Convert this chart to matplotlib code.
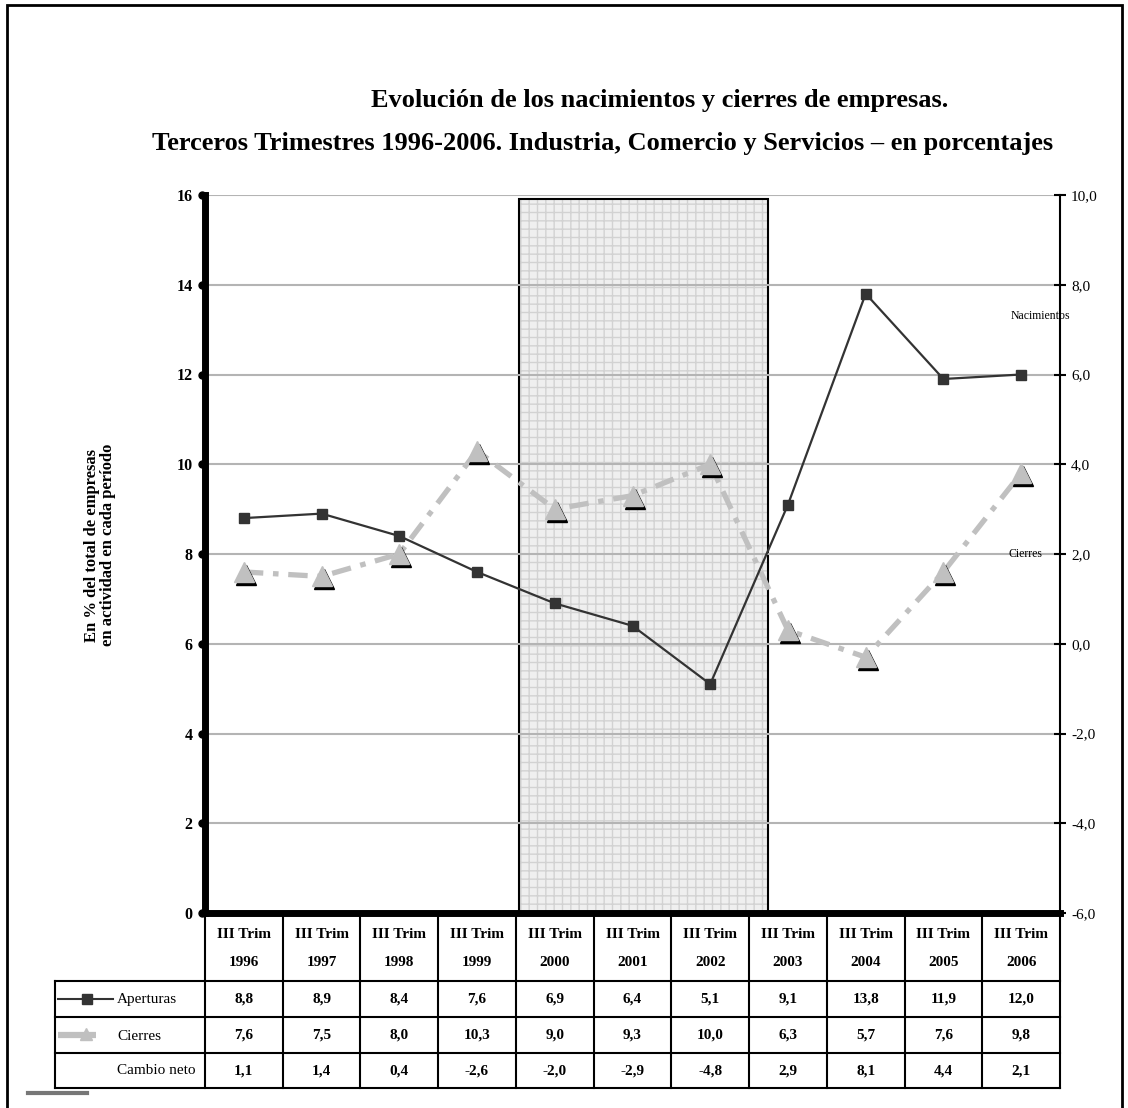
import numpy as np
import matplotlib
matplotlib.use('Agg')
import matplotlib.pyplot as plt
from matplotlib.patches import Rectangle
from matplotlib.lines import Line2D
from matplotlib import transforms

# datos
periodos = ['1996', '1997', '1998', '1999', '2000', '2001', '2002', '2003', '2004', '2005', '2006']
aperturas = [8.8, 8.9, 8.4, 7.6, 6.9, 6.4, 5.1, 9.1, 13.8, 11.9, 12.0]
cierres = [7.6, 7.5, 8.0, 10.3, 9.0, 9.3, 10.0, 6.3, 5.7, 7.6, 9.8]
cambio_neto = [1.1, 1.4, 0.4, -2.6, -2.0, -2.9, -4.8, 2.9, 8.1, 4.4, 2.1]
ticks_izq = [0, 2, 4, 6, 8, 10, 12, 14, 16]
ticks_der = [-6.0, -4.0, -2.0, 0.0, 2.0, 4.0, 6.0, 8.0, 10.0]

W, H = 1128, 1108
SERIF = 'Liberation Serif'
plt.rcParams['font.family'] = SERIF
plt.rcParams['lines.scale_dashes'] = False


def fx(px):
    return px / W


def fy(py):
    return 1 - py / H


def coma(v, dec=1):
    return f'{v:.{dec}f}'.replace('.', ',')


fig = plt.figure(figsize=(W / 100, H / 100), dpi=100)

# marco exterior
fig.add_artist(Rectangle((fx(7), fy(1120)), fx(1122) - fx(7), fy(5) - fy(1120),
                         transform=fig.transFigure, fill=False, ec='black', lw=2))

fig.text(fx(660), fy(100), 'Evolución de los nacimientos y cierres de empresas.',
         ha='center', va='center', fontsize=19, fontweight='bold')
fig.text(fx(603), fy(143),
         'Terceros Trimestres 1996-2006. Industria, Comercio y Servicios – en porcentajes',
         ha='center', va='center', fontsize=19, fontweight='bold')

ax = fig.add_axes([fx(205), fy(913), fx(1060) - fx(205), fy(195) - fy(913)])
x = np.arange(len(periodos))
ax.set_xlim(-0.5, len(periodos) - 0.5)
ax.set_ylim(0, 16)

# zona sombreada 2000-2002
ax.add_patch(Rectangle((3.54, 0), 3.2, 15.9, facecolor='#efefef', edgecolor='#d2d2d2',
                       hatch='++', lw=0, zorder=0.5))
ax.add_patch(Rectangle((3.54, 0), 3.2, 15.9, fill=False, edgecolor='black', lw=1.5, zorder=0.6))

for t in ticks_izq[1:]:
    ax.axhline(t, color='#b4b4b4', lw=1.5, zorder=0.7)

ax.plot(x, aperturas, color='#333333', lw=1.6, marker='s', ms=7.5,
        mfc='#333333', mec='#333333', zorder=3)

ax.plot(x, cierres, color='#c0c0c0', lw=3.8, dashes=(14, 7, 4, 7),
        solid_capstyle='butt', dash_capstyle='butt', zorder=2)
sombra = transforms.offset_copy(ax.transData, fig=fig, x=2, y=-3, units='dots')
ax.plot(x, cierres, ls='none', marker='^', ms=14, mfc='black', mec='black',
        transform=sombra, zorder=2.5)
ax.plot(x, cierres, ls='none', marker='^', ms=14, mfc='#c0c0c0', mec='#c0c0c0', zorder=2.6)

ax.set_xticks([])
ax.set_yticks(ticks_izq)
ax.set_yticklabels([str(t) for t in ticks_izq], fontsize=11.5, fontweight='bold')
ax.tick_params(axis='y', length=0, pad=9)
ax.spines['left'].set_linewidth(5)
ax.spines['bottom'].set_linewidth(5)
ax.spines['top'].set_visible(False)
ax.spines['right'].set_visible(False)
izq = transforms.blended_transform_factory(ax.transAxes, ax.transData)
ax.plot([-0.004] * len(ticks_izq), ticks_izq, 'o', color='black', ms=5,
        transform=izq, clip_on=False, zorder=5)

fig.text(fx(100), fy(545), 'En % del total de empresas\nen actividad en cada período',
         rotation=90, ha='center', va='center', fontsize=12, fontweight='bold',
         linespacing=1.0)

ax2 = ax.twinx()
ax2.set_ylim(-6, 10)
ax2.set_yticks(ticks_der)
ax2.set_yticklabels([coma(t) for t in ticks_der], fontsize=11)
ax2.tick_params(axis='y', direction='inout', length=8, width=1.5, pad=4)
for s in ['left', 'top', 'bottom']:
    ax2.spines[s].set_visible(False)
ax2.spines['right'].set_linewidth(1.5)

ax.text(fx(1040), fy(316), 'Nacimientos', transform=fig.transFigure,
        ha='center', va='center', fontsize=8.5, zorder=6)
ax.text(fx(1025), fy(554), 'Cierres', transform=fig.transFigure,
        ha='center', va='center', fontsize=8.5, zorder=6)

# tabla de datos
filas_px = [913, 981, 1017, 1053, 1088]
tr = transforms.blended_transform_factory(ax.transData, ax.transAxes)


def ya(py):
    return (913 - py) / (913 - 195)


x_izq = (55 - 244) / 77.7
for py in filas_px[1:]:
    ax.add_line(Line2D([x_izq, 10.5], [ya(py)] * 2, transform=tr, color='black',
                       lw=1.5, clip_on=False))
for k in range(len(periodos) + 1):
    ax.add_line(Line2D([k - 0.5] * 2, [ya(913), ya(1088)], transform=tr, color='black',
                       lw=1.5, clip_on=False))
ax.add_line(Line2D([x_izq] * 2, [ya(981), ya(1088)], transform=tr, color='black',
                   lw=1.5, clip_on=False))

for i, p in enumerate(periodos):
    ax.text(i, ya(934), 'III Trim', transform=tr, ha='center', va='center',
            fontsize=11, fontweight='bold', clip_on=False)
    ax.text(i, ya(962), p, transform=tr, ha='center', va='center',
            fontsize=11, fontweight='bold', clip_on=False)
    for serie, py in zip([aperturas, cierres, cambio_neto], [999, 1035, 1071]):
        ax.text(i, ya(py), coma(serie[i]), transform=tr, ha='center', va='center',
                fontsize=11, fontweight='bold', clip_on=False)

for nombre, py in zip(['Aperturas', 'Cierres', 'Cambio neto'], [1000, 1036, 1071]):
    fig.text(fx(117), fy(py), nombre, ha='left', va='center', fontsize=11)

fig.add_artist(Line2D([fx(58), fx(113)], [fy(999)] * 2, transform=fig.transFigure,
                      color='#333333', lw=1.5))
fig.add_artist(Line2D([fx(87)], [fy(999)], transform=fig.transFigure, marker='s', ms=7.5,
                      color='#333333', ls='none'))
fig.add_artist(Line2D([fx(58), fx(96)], [fy(1035)] * 2, transform=fig.transFigure,
                      color='#c0c0c0', lw=4.5, solid_capstyle='butt'))
fig.add_artist(Line2D([fx(86)], [fy(1034)], transform=fig.transFigure, marker='^', ms=8,
                      color='#c0c0c0', ls='none'))

fig.add_artist(Line2D([fx(28), fx(87)], [fy(1093)] * 2, transform=fig.transFigure,
                      color='#777777', lw=3))

fig.savefig('out.png', dpi=100)
